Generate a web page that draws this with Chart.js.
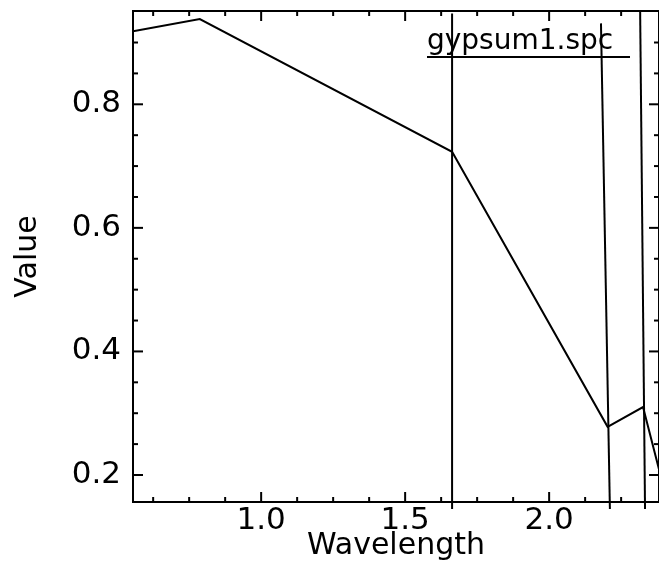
<!DOCTYPE html>
<html>
<head>
<meta charset="utf-8">
<script src="https://cdn.jsdelivr.net/npm/chart.js@4.4.1/dist/chart.umd.min.js"></script>
<style>
    html,body{margin:0;padding:0;background:#fff;}
    canvas{display:block;}
</style>
</head>
<body>
<canvas id="chart" width="659" height="566"></canvas>
<script>
const spectrumX=[0.555,0.787,1.663,2.203,2.326,2.381];
const spectrumY=[0.918,0.938,0.723,0.278,0.310,0.210];

// feature markers, each one [top,bottom]
const markerX=[[1.663,1.663],[2.180,2.211],[2.316,2.333]];
const markerY=[[0.947,0.145],[0.931,0.145],[0.951,0.145]];

const xMajorTicks=[1.0,1.5,2.0];
const xMinorTicks=[0.625,0.75,0.875,1.125,1.25,1.375,1.625,1.75,1.875,2.125,2.25];
const yMajorTicks=[0.2,0.4,0.6,0.8];
const yMinorTicks=[0.25,0.3,0.35,0.45,0.5,0.55,0.65,0.7,0.75,0.85,0.9];

const xRange=[0.555,2.3815];
const yRange=[0.1563,0.951];

const legendLabel="gypsum1.spc";
const xTitle="Wavelength";
const yTitle="Value";

function toPoints(xs,ys) {
    return xs.map((x,i)=>({x:x,y:ys[i]}));
}

let datasets=[{
    data:toPoints(spectrumX,spectrumY),
    borderColor:'#000',
    borderWidth:2
}];
markerX.forEach((mx,i)=>{
    datasets.push({
        data:toPoints(mx,markerY[i]),
        borderColor:'#000',
        borderWidth:2,
        clip:false
    });
});

// IDL style box with inward ticks on every side, and the legend
const idlFrame={
    id:'idlFrame',
    beforeDraw(chart) {
        let ctx=chart.ctx;
        ctx.save();
        ctx.fillStyle='#fff';
        ctx.fillRect(0,0,chart.width,chart.height);
        ctx.restore();
    },
    afterDatasetsDraw(chart) {
        let
            ctx=chart.ctx,
            a=chart.chartArea,
            xs=chart.scales.x,
            ys=chart.scales.y;
        function line(x1,y1,x2,y2) {
            ctx.beginPath();
            ctx.moveTo(x1,y1);
            ctx.lineTo(x2,y2);
            ctx.stroke();
        }
        function xTick(v,len) {
            let px=xs.getPixelForValue(v);
            line(px,a.bottom,px,a.bottom-len);
            line(px,a.top,px,a.top+len);
        }
        function yTick(v,len) {
            let py=ys.getPixelForValue(v);
            line(a.left,py,a.left+len,py);
            line(a.right,py,a.right-len,py);
        }
        ctx.save();
        ctx.strokeStyle='#000';
        ctx.lineWidth=2;
        ctx.strokeRect(a.left,a.top,a.right-a.left,a.bottom-a.top);
        xMajorTicks.forEach(v=>xTick(v,10));
        xMinorTicks.forEach(v=>xTick(v,5));
        yMajorTicks.forEach(v=>yTick(v,10));
        yMinorTicks.forEach(v=>yTick(v,5));

        ctx.fillStyle='#000';
        ctx.font='28px "DejaVu Sans"';
        ctx.textBaseline='alphabetic';
        ctx.textAlign='left';
        ctx.fillText(legendLabel,a.left+294,a.top+38);
        line(a.left+294,a.top+46,a.left+497,a.top+46);
        ctx.restore();
    }
};

new Chart(
    document.getElementById('chart'),
    {
        type:'line',
        data:{datasets:datasets},
        plugins:[idlFrame],
        options:{
            responsive:false,
            animation:false,
            layout:{padding:{top:11,right:-2,left:0,bottom:0}},
            elements:{
                point:{radius:0},
                line:{tension:0,fill:false}
            },
            plugins:{
                legend:{display:false},
                tooltip:{enabled:false}
            },
            scales:{
                x:{
                    type:'linear',
                    min:xRange[0],
                    max:xRange[1],
                    grid:{display:false,drawTicks:false},
                    border:{display:false},
                    afterBuildTicks:s=>{s.ticks=xMajorTicks.map(v=>({value:v}));},
                    afterFit:s=>{
                        s.height=64;
                        s.paddingLeft=0;
                        s.paddingRight=0;
                    },
                    ticks:{
                        padding:0,
                        color:'#000',
                        font:{family:'DejaVu Sans',size:31},
                        maxRotation:0,
                        callback:v=>Number(v).toFixed(1)
                    },
                    title:{
                        display:true,
                        text:xTitle,
                        color:'#000',
                        font:{family:'DejaVu Sans',size:30},
                        padding:{top:0,bottom:2}
                    }
                },
                y:{
                    type:'linear',
                    min:yRange[0],
                    max:yRange[1],
                    grid:{display:false,drawTicks:false},
                    border:{display:false},
                    afterBuildTicks:s=>{s.ticks=yMajorTicks.map(v=>({value:v}));},
                    afterFit:s=>{
                        s.width=133;
                        s.paddingTop=0;
                        s.paddingBottom=0;
                    },
                    ticks:{
                        padding:12,
                        color:'#000',
                        font:{family:'DejaVu Sans',size:31},
                        callback:v=>Number(v).toFixed(1)
                    },
                    title:{
                        display:true,
                        text:yTitle,
                        color:'#000',
                        font:{family:'DejaVu Sans',size:30},
                        padding:{top:10,bottom:0}
                    }
                }
            }
        }
    }
);
</script>
</body>
</html>
